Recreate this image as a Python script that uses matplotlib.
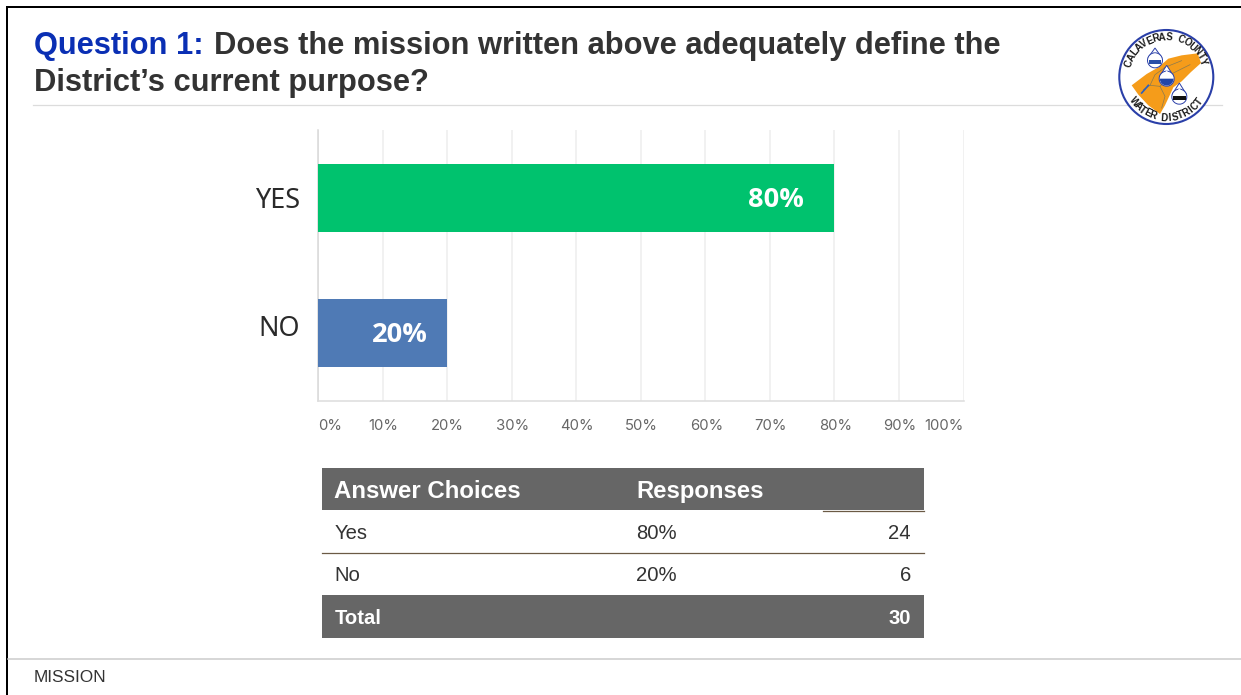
import matplotlib
matplotlib.use("Agg")
import matplotlib.pyplot as plt
from matplotlib.patches import Circle, Polygon, Rectangle, Wedge
import numpy as np

W, H = 1241, 695

# chart data
categories = ["NO", "YES"]
shares = [20, 80]
bar_colors = ["#4f7ab5", "#00c26e"]
x_ticks = [0, 10, 20, 30, 40, 50, 60, 70, 80, 90, 100]

# table data
table_header = ["Answer Choices", "Responses"]
table_rows = [("Yes", "80%", "24"), ("No", "20%", "6")]
table_total = ("Total", "30")

SANS = "Liberation Sans"
DARK = "#333333"
TABLE_GREY = "#666666"
RULE = "#6b5a45"
SEAL_BLUE = "#2a3fa8"

fig = plt.figure(figsize=(W / 100, H / 100), dpi=100, facecolor="white")

# overlay in pixel coordinates for the slide furniture
page = fig.add_axes([0, 0, 1, 1])
page.set_xlim(0, W)
page.set_ylim(H, 0)
page.axis("off")

# slide frame, header rule, footer rule
page.add_patch(Rectangle((6, 6), W, 2, fc="black", ec="none"))
page.add_patch(Rectangle((6, 6), 2, H, fc="black", ec="none"))
page.plot([33, 1222], [104.5, 104.5], color="#dcdcdc", lw=0.9)
page.plot([8, W], [658.5, 658.5], color="#cccccc", lw=1.1)

# title
TITLE_SIZE = 22.2
page.text(34, 46, "Question 1:", color="#0a2fb4", fontsize=TITLE_SIZE, fontweight="bold",
          family=SANS, va="center", ha="left")
page.text(214, 46, "Does the mission written above adequately define the", color=DARK,
          fontsize=TITLE_SIZE, fontweight="bold", family=SANS, va="center", ha="left")
page.text(34, 83, "District\u2019s current purpose?", color=DARK, fontsize=TITLE_SIZE,
          fontweight="bold", family=SANS, va="center", ha="left")
page.text(34, 677, "MISSION", color=DARK, fontsize=12.4, family=SANS, va="center", ha="left")

# bar chart
ax = fig.add_axes([318 / W, 1 - 401 / H, 645.5 / W, 271 / H])
ax.barh(categories, shares, height=0.5, color=bar_colors, zorder=3)
ax.set_xlim(0, 100)
ax.set_ylim(-0.5, 1.5)
ax.set_xticks(x_ticks)
ax.set_xticklabels([])
ax.set_yticklabels([])
ax.tick_params(axis="both", length=0)
ax.grid(axis="x", color="#efefef", lw=1.2, zorder=0)
ax.set_axisbelow(True)
for side in ["top", "right"]:
    ax.spines[side].set_visible(False)
ax.spines["left"].set_color("#d8d8d8")
ax.spines["left"].set_linewidth(1.1)
ax.spines["bottom"].set_color("#dddddd")
ax.spines["bottom"].set_linewidth(1.1)

# category names and value labels, NO sits a little above its bar centre
for i, (name, v) in enumerate(zip(categories, shares)):
    ax.annotate(name, (0, i), xytext=(-18, 4 if name == "NO" else -3),
                textcoords="offset pixels", ha="right", va="center", color="#2a2a2a",
                fontsize=19.4, family="Noto Sans", annotation_clip=False)
    ax.annotate(f"{v}%", (v, i), xytext=(-31 if v > 50 else -19, -2), textcoords="offset pixels",
                ha="right", va="center", color="white", fontsize=19.6, fontweight="bold",
                family="Open Sans", zorder=4)

# tick labels are nudged by hand, 100% crowds the one before it
for v in x_ticks:
    x = 318 + v * 6.47
    if v == 0:
        x = 330
    elif v == 90:
        x = 900
    elif v == 100:
        x = 944
    page.text(x, 426.5, f"{v}%", ha="center", va="center", fontsize=10.7, color="#666666",
              family="Inter")

# table
L, R = 322, 924
page.add_patch(Rectangle((L, 468), R - L, 42, fc=TABLE_GREY, ec="none"))
page.plot([823, R], [510.5, 510.5], color=RULE, lw=0.9)
page.text(334.5, 491.5, table_header[0], color="white", fontsize=17.3, fontweight="bold",
          family=SANS, va="center")
page.text(636, 491.5, table_header[1], color="white", fontsize=17.2, fontweight="bold",
          family=SANS, va="center")
for (name, pct, count), yc in zip(table_rows, [533.4, 575.4]):
    page.text(334.5, yc, name, color=DARK, fontsize=14.6, family=SANS, va="center")
    page.text(636, yc, pct, color=DARK, fontsize=14.6, family=SANS, va="center")
    page.text(911, yc, count, color=DARK, fontsize=14.6, family=SANS, va="center", ha="right")
page.plot([L, R], [552.5, 552.5], color=RULE, lw=0.9)
page.add_patch(Rectangle((L, 595), R - L, 43, fc=TABLE_GREY, ec="none"))
page.text(334.5, 618, table_total[0], color="white", fontsize=14.6, fontweight="bold",
          family=SANS, va="center")
page.text(911, 618, table_total[1], color="white", fontsize=14.6, fontweight="bold",
          family=SANS, va="center", ha="right")

# district seal, shapes below are laid out on a small local grid
def sx(v):
    return 1115 + v / 3


def sy(v):
    return 28 + v / 3


cx, cy = 1166.3, 77
page.add_patch(Circle((cx, cy), 47, fc="white", ec=SEAL_BLUE, lw=1.5, zorder=5))

county = [(50, 172), (95, 138), (130, 118), (160, 92), (200, 82), (248, 76), (258, 105), (228, 132),
          (200, 160), (175, 178), (165, 200), (150, 232), (135, 258), (100, 232), (70, 200)]
page.add_patch(Polygon([(sx(a), sy(b)) for a, b in county], fc="#f59c1a", ec="none", zorder=6))

# river traces across the county
rivers = [[(85, 185), (105, 172), (135, 175), (150, 205), (140, 240)],
          [(105, 172), (120, 140), (150, 118), (200, 98)],
          [(135, 175), (175, 135), (225, 110)],
          [(80, 195), (95, 178), (100, 172)]]
for j, river in enumerate(rivers):
    page.plot([sx(a) for a, b in river], [sy(b) for a, b in river],
              color="#2a5fc0" if j == 3 else "#8a7a50", lw=1.2 if j == 3 else 0.5, zorder=7)


def seal_text(label, start, stop, radius, flip):
    # one rotated glyph per character, spread along the ring
    angles = np.linspace(start, stop, len(label))
    for ch, a in zip(label, angles):
        rad = np.deg2rad(a)
        px = cx + radius * np.cos(rad)
        py = cy - radius * np.sin(rad)
        rot = a + 90 if flip else a - 90
        page.text(px, py, ch, fontsize=7, fontweight="bold", family=SANS, color="#1a1a1a",
                  rotation=rot, rotation_mode="anchor", ha="center", va="center", zorder=9)


seal_text("CALAVERAS COUNTY", 160, 22, 40, False)
seal_text("WATER DISTRICT", 218, 323, 41, True)


def drop(x, y, r, tip, fill, band):
    # water drop with a coloured band near the bottom
    x, y, tip = sx(x), sy(y), sy(tip)
    page.add_patch(Polygon([(x - r * 0.92, y - r * 0.35), (x, tip), (x + r * 0.92, y - r * 0.35)],
                           fc="white", ec=SEAL_BLUE, lw=0.7, zorder=8))
    page.add_patch(Wedge((x, y), r, 0, 360, fc="white", ec=SEAL_BLUE, lw=0.7, zorder=8))
    page.add_patch(Polygon([(x - r * 0.55, y - r * 0.45), (x, tip + r * 0.7), (x + r * 0.55, y - r * 0.45)],
                           fc="white", ec="none", zorder=8.5))
    if band == "lower":
        # y axis points down here, so 0..180 is the lower half
        page.add_patch(Wedge((x, y), r - 0.6, 0, 180, fc=fill, ec="none", zorder=8.5))
    else:
        page.add_patch(Rectangle((x - r * 0.85, y - r * 0.1), r * 1.7, r * 0.6, fc=fill, ec="none", zorder=8.5))


drop(120, 97, 7.5, 60, "#2a4fa8", "mid")
drop(155, 152, 7.5, 112, "#2346a8", "lower")
drop(193, 206, 7.5, 165, "#111111", "mid")

fig.savefig("out.png", dpi=100, facecolor="white")
